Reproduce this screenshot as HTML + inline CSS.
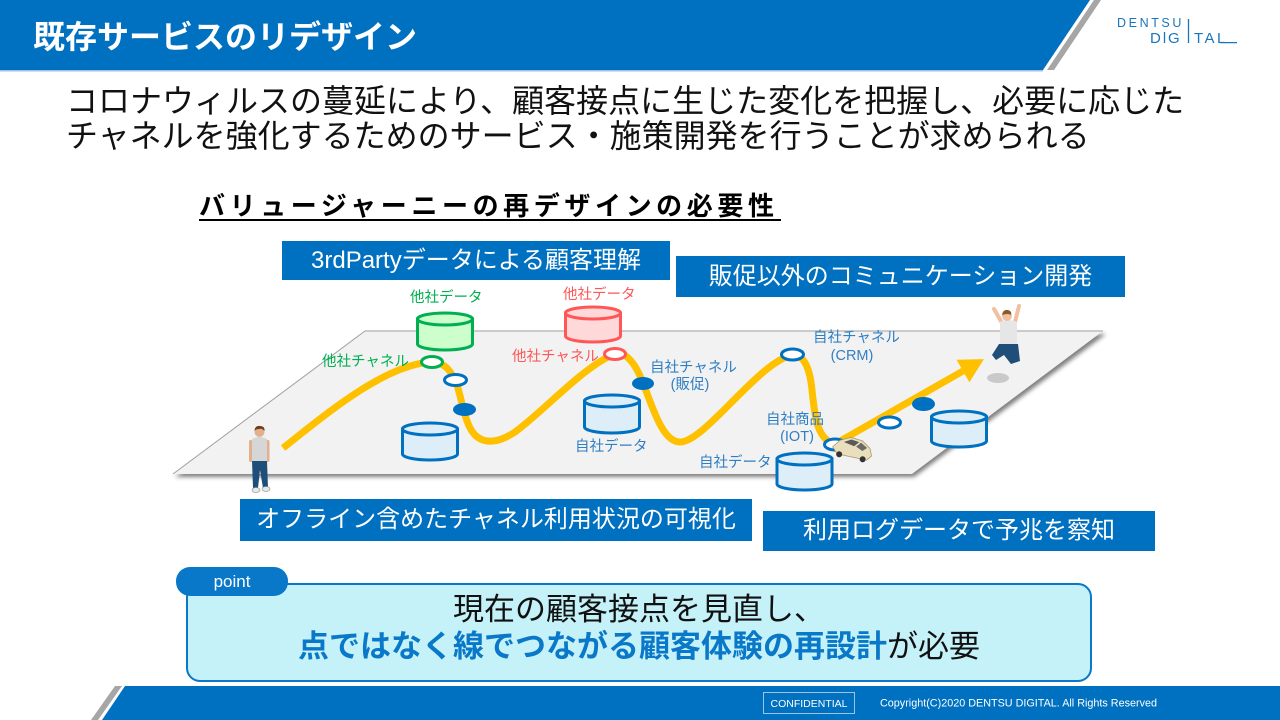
<!DOCTYPE html>
<html><head><meta charset="utf-8">
<style>
*{margin:0;padding:0;box-sizing:border-box}
body{width:1280px;height:720px;position:relative;overflow:hidden;background:#fff;font-family:"Liberation Sans","Noto Sans CJK JP",sans-serif}
.a{position:absolute;white-space:nowrap}
.box{position:absolute;background:#0070c0;color:#fff;font-size:24px;line-height:30px;display:flex;align-items:center;justify-content:center;white-space:nowrap}
svg text{font-family:"Liberation Sans","Noto Sans CJK JP",sans-serif}
</style></head><body>
<svg class="a" style="left:0;top:0" width="1280" height="720" viewBox="0 0 1280 720">
  <defs>
    <filter id="sh" x="-5%" y="-10%" width="110%" height="130%"><feGaussianBlur stdDeviation="2"/></filter>
  </defs>
  <!-- header -->
  <polygon points="0,0 1090,0 1043,70 0,70" fill="#0070c0"/>
  <line x1="0" y1="70.8" x2="1043" y2="70.8" stroke="#9dc3e6" stroke-width="1.5"/>
  <polygon points="1094,0 1101,0 1054,70 1047,70" fill="#a6a6a6"/>
  <!-- logo -->
  <text x="1117" y="27" font-size="12.5" letter-spacing="2.6" fill="#1b75bb">DENTSU</text>
  <text x="1150" y="43" font-size="15" fill="#1b75bb">D</text>
  <line x1="1164.5" y1="32" x2="1164.5" y2="43" stroke="#1b75bb" stroke-width="1.3"/>
  <text x="1168" y="43" font-size="15" fill="#1b75bb">G</text>
  <line x1="1188.5" y1="19" x2="1188.5" y2="43" stroke="#1b75bb" stroke-width="1.3"/>
  <text x="1194" y="43" font-size="15" letter-spacing="2.5" fill="#1b75bb">TAL</text>
  <line x1="1220" y1="42.6" x2="1237" y2="42.6" stroke="#1b75bb" stroke-width="1.3"/>
  <!-- footer -->
  <polygon points="125,686 1280,686 1280,720 102,720" fill="#0070c0"/>
  <polygon points="115,686 122,686 98,720 91,720" fill="#a6a6a6"/>
  <rect x="763.5" y="692.5" width="91" height="21" fill="none" stroke="#9dc3e6" stroke-width="1"/>
  <text x="809" y="707" font-size="10.5" fill="#fff" text-anchor="middle">CONFIDENTIAL</text>
  <text x="880" y="706.5" font-size="10.8" fill="#fff">Copyright(C)2020 DENTSU DIGITAL. All Rights Reserved</text>

  <!-- platform -->
  <polygon points="175,477 367,334 1106,334 914,477" fill="#7f7f7f" filter="url(#sh)"/>
  <polygon points="173,474 365,331 1103,331 912,474" fill="#f2f2f2"/>
  <polyline points="173,474 365,331 1103,331" fill="none" stroke="#a0a0a0" stroke-width="1"/>

  <!-- cylinders -->
  <g stroke-width="3">
    <g fill="#ccffcc" stroke="#00b050">
      <path d="M417.5,319 L417.5,344 A27.5,6 0 0 0 472.5,344 L472.5,319 Z"/>
      <ellipse cx="445" cy="319" rx="27.5" ry="6"/>
    </g>
    <g fill="#ffd9d9" stroke="#ff5757">
      <path d="M565.5,313 L565.5,336 A27.5,6 0 0 0 620.5,336 L620.5,313 Z"/>
      <ellipse cx="593" cy="313" rx="27.5" ry="6"/>
    </g>
    <g fill="#deeef9" stroke="#0070c0">
      <path d="M402.5,429 L402.5,454 A27.5,6 0 0 0 457.5,454 L457.5,429 Z"/>
      <ellipse cx="430" cy="429" rx="27.5" ry="6"/>
      <path d="M584.5,401 L584.5,427 A27.5,6 0 0 0 639.5,427 L639.5,401 Z"/>
      <ellipse cx="612" cy="401" rx="27.5" ry="6"/>
      <path d="M777,459 L777,484 A27.5,6 0 0 0 832,484 L832,459 Z"/>
      <ellipse cx="804.5" cy="459" rx="27.5" ry="6"/>
      <path d="M931.5,417 L931.5,441 A27.5,6 0 0 0 986.5,441 L986.5,417 Z"/>
      <ellipse cx="959" cy="417" rx="27.5" ry="6"/>
    </g>
  </g>

  <!-- yellow journey path -->
  <path d="M283,448 C325,415 385,364 432,362 C445,362 452,372 457,385 C462,400 465,425 475,435 C485,445 500,442 515,432 C545,410 585,365 615,354 C628,350 638,370 643,383 C652,405 662,442 680,442 C705,442 760,360 793,355 C805,355 810,370 812,390 C815,420 818,440 835,444 L963,371"
        fill="none" stroke="#ffc000" stroke-width="7" stroke-linejoin="round"/>
  <polygon points="983.9,359.1 956.6,359.7 969.4,382.3" fill="#ffc000"/>

  <!-- circles -->
  <g stroke-width="3">
    <ellipse cx="432" cy="362" rx="10.5" ry="5.5" fill="#fff" stroke="#00b050"/>
    <ellipse cx="455.5" cy="380" rx="11" ry="5.5" fill="#fff" stroke="#0070c0"/>
    <ellipse cx="464.5" cy="409.5" rx="11.5" ry="6.5" fill="#0070c0" stroke="none"/>
    <ellipse cx="615" cy="354" rx="10.5" ry="5.5" fill="#fff" stroke="#ff5757"/>
    <ellipse cx="643" cy="383.5" rx="11" ry="6.5" fill="#0070c0" stroke="none"/>
    <ellipse cx="792.5" cy="354.5" rx="11" ry="5.5" fill="#fff" stroke="#0070c0"/>
    <ellipse cx="835" cy="444.5" rx="10.5" ry="5.5" fill="#fff" stroke="#0070c0"/>
    <ellipse cx="889.5" cy="422.5" rx="11" ry="5.5" fill="#fff" stroke="#0070c0"/>
    <ellipse cx="923.5" cy="404" rx="11.5" ry="7" fill="#0070c0" stroke="none"/>
  </g>

  <!-- labels -->
  <g font-size="14.5">
    <text x="410" y="302" fill="#00b050">他社データ</text>
    <text x="563" y="299" fill="#ff5757">他社データ</text>
    <text x="322" y="366" fill="#00b050">他社チャネル</text>
    <text x="512" y="361" fill="#ff5757">他社チャネル</text>
    <g fill="#2f7fc4">
      <text x="575" y="451">自社データ</text>
      <text x="650" y="372">自社チャネル</text>
      <text x="690" y="389" text-anchor="middle">(販促)</text>
      <text x="813" y="342">自社チャネル</text>
      <text x="852" y="360" text-anchor="middle">(CRM)</text>
      <text x="766" y="424">自社商品</text>
      <text x="797" y="441" text-anchor="middle">(IOT)</text>
      <text x="699" y="467">自社データ</text>
    </g>
  </g>

  <!-- car -->
  <g transform="translate(853,447) rotate(12)">
    <path d="M-20,4 L-14,-4 L-4,-9 L8,-8 L17,-2 L20,5 L16,10 L-14,10 Z" fill="#eadfbd" stroke="#a89868" stroke-width="0.8"/>
    <path d="M-10,-3 L-3,-7 L5,-6 L1,-1 Z" fill="#5a5a5a"/>
    <path d="M3,-1 L7,-6 L14,-2 L10,2 Z" fill="#6a6a6a"/>
    <circle cx="-12" cy="10" r="3" fill="#333"/>
    <circle cx="12" cy="10" r="3" fill="#333"/>
  </g>

  <!-- left person -->
  <g>
    <rect x="249" y="440" width="3.5" height="22" rx="1.5" fill="#e3b08f"/>
    <rect x="266" y="440" width="3.5" height="22" rx="1.5" fill="#e3b08f"/>
    <path d="M252,439 Q259,435 267,439 L267,462 L252,462 Z" fill="#d6d6d6"/>
    <circle cx="259.5" cy="432" r="5" fill="#e3b08f"/>
    <path d="M254.5,431 Q255,425 260,426 Q265,426 264.5,431 Q262,428 259,429 Q256,429 254.5,431 Z" fill="#6b3e1e"/>
    <polygon points="252,461 267,461 268,488 263,488 260,470 258,488 253,488" fill="#1f4e79"/>
    <ellipse cx="256" cy="490" rx="4" ry="2.5" fill="#e6e6e6" stroke="#888" stroke-width="0.6"/>
    <ellipse cx="266" cy="489" rx="4" ry="2.5" fill="#e6e6e6" stroke="#888" stroke-width="0.6"/>
  </g>

  <!-- right jumping person -->
  <g>
    <ellipse cx="998" cy="378" rx="11" ry="5" fill="#c9c9c9"/>
    <line x1="1002" y1="323" x2="994" y2="309" stroke="#f0c0a0" stroke-width="4" stroke-linecap="round"/>
    <line x1="1015" y1="322" x2="1019" y2="306" stroke="#f0c0a0" stroke-width="4" stroke-linecap="round"/>
    <path d="M1000,322 Q1008,318 1017,322 L1017,345 L1000,345 Z" fill="#e6e6e6"/>
    <circle cx="1007" cy="316" r="5" fill="#f0c0a0"/>
    <path d="M1002,315 Q1003,309 1008,310 Q1012,311 1011,315 Q1008,313 1002,315 Z" fill="#8b5a2b"/>
    <polygon points="999,344 1018,344 1020,361 1011,364 1004,355 996,360 992,355" fill="#1f4e79"/>
  </g>
</svg>

<div class="a" style="left:33px;top:17px;font-size:32px;line-height:40px;font-weight:bold;color:#fff">既存サービスのリデザイン</div>
<div class="a" style="left:66px;top:81px;font-size:32px;line-height:40px;color:#111">コロナウィルスの蔓延により、顧客接点に生じた変化を把握し、必要に応じた</div>
<div class="a" style="left:66px;top:116px;font-size:32px;line-height:40px;color:#111">チャネルを強化するためのサービス・施策開発を行うことが求められる</div>

<div class="a" style="left:199px;top:189px;font-size:26px;line-height:34px;font-weight:bold;letter-spacing:4.6px;color:#000">バリュージャーニーの再デザインの必要性</div>
<div class="a" style="left:199px;top:219px;width:582px;height:2px;background:#000"></div>

<div class="box" style="left:282px;top:241px;width:388px;height:39px">3rdPartyデータによる顧客理解</div>
<div class="box" style="left:676px;top:256px;width:449px;height:41px">販促以外のコミュニケーション開発</div>
<div class="box" style="left:240px;top:499px;width:512px;height:42px">オフライン含めたチャネル利用状況の可視化</div>
<div class="box" style="left:763px;top:511px;width:392px;height:40px">利用ログデータで予兆を察知</div>

<div class="a" style="left:186px;top:583px;width:906px;height:99px;border:2.5px solid #0a78c8;border-radius:14px;background:#c5f1f8"></div>
<div class="a" style="left:176px;top:567px;width:112px;height:29px;border-radius:14px;background:#0a78c8;color:#fff;font-size:17px;line-height:29px;text-align:center">point</div>
<div class="a" style="left:186px;top:591px;width:906px;font-size:31px;line-height:38px;text-align:center;color:#111">現在の顧客接点を見直し、</div>
<div class="a" style="left:186px;top:628px;width:906px;font-size:31px;line-height:38px;text-align:center;color:#111"><span style="color:#0a78c8;font-weight:bold">点ではなく線でつながる顧客体験の再設計</span>が必要</div>
</body></html>
